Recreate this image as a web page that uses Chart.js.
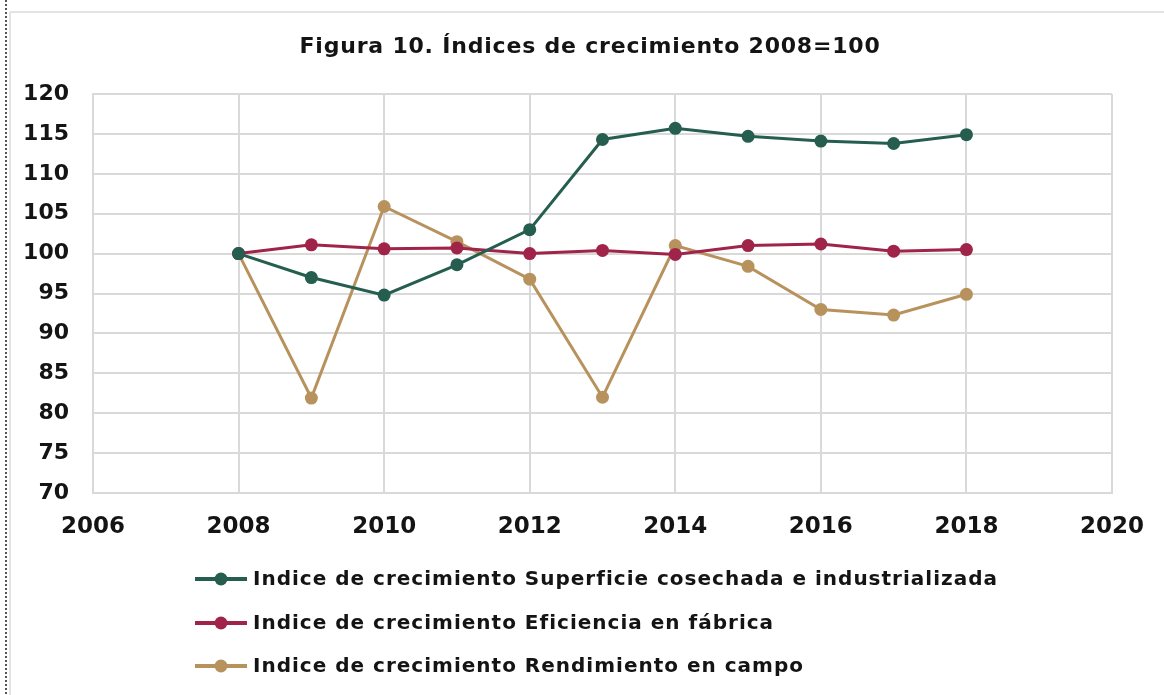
<!DOCTYPE html>
<html>
<head>
<meta charset="utf-8">
<script src="https://cdn.jsdelivr.net/npm/chart.js@4/dist/chart.umd.min.js"></script>
<style>
  html, body { margin: 0; padding: 0; background: #fff; }
  #wrap { position: absolute; left: 0; top: 0; width: 1164px; height: 695px; }
</style>
</head>
<body>
<div id="wrap"><canvas id="c" width="1164" height="695"></canvas></div>
<script>
const titleText = "Figura 10. Índices de crecimiento 2008=100";
const years = [2008, 2009, 2010, 2011, 2012, 2013, 2014, 2015, 2016, 2017, 2018];
const superficie = [100, 97.0, 94.8, 98.6, 103.0, 114.3, 115.7, 114.7, 114.1, 113.8, 114.9];
const eficiencia = [100, 101.1, 100.6, 100.7, 100.0, 100.4, 99.9, 101.0, 101.2, 100.3, 100.5];
const rendimiento = [100, 81.9, 105.9, 101.5, 96.8, 82.0, 101.0, 98.4, 93.0, 92.3, 94.9];
const seriesLabels = [
  "Indice de crecimiento Superficie cosechada e industrializada",
  "Indice de crecimiento Eficiencia en fábrica",
  "Indice de crecimiento Rendimiento en campo"
];
const seriesColors = ["#255e4f", "#a0244a", "#b8925d"];
const xTicks = [2006, 2008, 2010, 2012, 2014, 2016, 2018, 2020];
const yTicks = [70, 75, 80, 85, 90, 95, 100, 105, 110, 115, 120];

const FONT = "'DejaVu Sans', sans-serif";
const TEXT = "#141414";

function pts(vals) { return years.map((y, i) => ({ x: y, y: vals[i] })); }

const frame = {
  id: 'frame',
  beforeDraw(chart) {
    const ctx = chart.ctx;
    ctx.save();
    ctx.fillStyle = '#fff';
    ctx.fillRect(0, 0, chart.width, chart.height);
    ctx.strokeStyle = '#e3e3e3';
    ctx.lineWidth = 2;
    ctx.beginPath();
    ctx.moveTo(10, 12); ctx.lineTo(chart.width, 12);
    ctx.moveTo(10, 12); ctx.lineTo(10, chart.height);
    ctx.stroke();
    ctx.strokeStyle = '#555';
    ctx.lineWidth = 2;
    ctx.setLineDash([2, 2]);
    ctx.beginPath();
    ctx.moveTo(6, 0); ctx.lineTo(6, chart.height);
    ctx.stroke();
    ctx.restore();
  }
};

const titleAndLegend = {
  id: 'titleAndLegend',
  afterDraw(chart) {
    const ctx = chart.ctx;
    ctx.save();
    // title
    ctx.font = "bold 22px " + FONT;
    ctx.letterSpacing = '0.8px';
    ctx.fillStyle = TEXT;
    ctx.textBaseline = 'middle';
    ctx.textAlign = 'center';
    ctx.fillText(titleText, 590, 47);
    // legend
    const rows = [579, 623, 666];
    ctx.font = "bold 20px " + FONT;
    ctx.letterSpacing = '1px';
    ctx.textAlign = 'left';
    chart.data.datasets.forEach((ds, i) => {
      const y = rows[i];
      ctx.strokeStyle = ds.borderColor;
      ctx.lineWidth = 4;
      ctx.beginPath();
      ctx.moveTo(195, y); ctx.lineTo(247, y);
      ctx.stroke();
      ctx.fillStyle = ds.backgroundColor;
      ctx.beginPath();
      ctx.arc(221, y, 6.5, 0, Math.PI * 2);
      ctx.fill();
      ctx.fillStyle = TEXT;
      ctx.fillText(ds.label, 253, y + 1);
    });
    ctx.restore();
  }
};

const datasets = [superficie, eficiencia, rendimiento].map((vals, i) => ({
  label: seriesLabels[i],
  data: pts(vals),
  borderColor: seriesColors[i],
  backgroundColor: seriesColors[i],
  pointBackgroundColor: seriesColors[i],
  pointBorderColor: seriesColors[i],
  pointRadius: 6.5,
  pointBorderWidth: 0,
  borderWidth: 3,
  tension: 0
}));

new Chart(document.getElementById('c'), {
  type: 'line',
  data: { datasets },
  plugins: [frame, titleAndLegend],
  options: {
    responsive: false,
    animation: false,
    devicePixelRatio: 1,
    layout: { padding: { left: 0, right: 52, top: 94, bottom: 152 } },
    plugins: {
      legend: { display: false },
      tooltip: { enabled: false },
      title: { display: false }
    },
    scales: {
      x: {
        type: 'linear',
        min: 2006, max: 2020,
        afterBuildTicks(s) { s.ticks = xTicks.map(v => ({ value: v })); },
        afterFit(s) { s.height = 50; },
        grid: { color: '#d9d9d9', lineWidth: 2, drawTicks: false },
        border: { color: '#d9d9d9', width: 2 },
        ticks: {
          color: TEXT,
          padding: 20,
          font: { family: FONT, size: 23, weight: 'bold' },
          callback: v => String(v)
        }
      },
      y: {
        min: 70, max: 120,
        afterBuildTicks(s) { s.ticks = yTicks.map(v => ({ value: v })); },
        afterFit(s) { s.width = 93; },
        grid: { color: '#d9d9d9', lineWidth: 2, drawTicks: false },
        border: { color: '#d9d9d9', width: 2 },
        ticks: {
          color: TEXT,
          padding: 24,
          font: { family: FONT, size: 22, weight: 'bold' },
          callback: v => String(v)
        }
      }
    }
  }
});
</script>
</body>
</html>
